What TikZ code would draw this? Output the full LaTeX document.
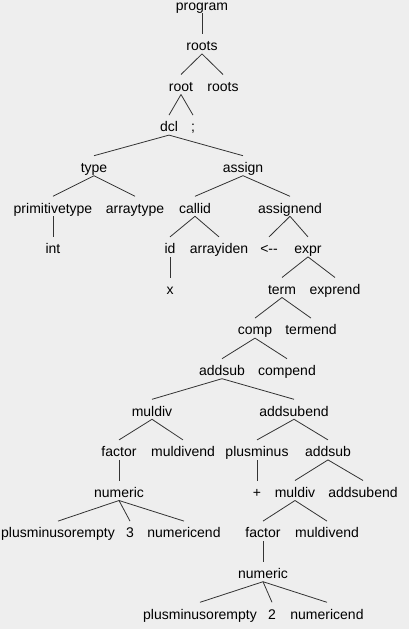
\documentclass[tikz,border=0pt]{standalone}
\usepackage{fontspec}
\setmainfont{Liberation Sans}
\usepackage{xcolor}
\usetikzlibrary{positioning}
\definecolor{panelgray}{HTML}{EEEEEE}
\definecolor{branchgray}{HTML}{333333}

\begin{document}
\begin{tikzpicture}[
		x=1pt, y=-40.6pt,
		tnode/.style={anchor=base, inner sep=0pt, outer sep=0pt,
			text height=16.7pt, text depth=3.3pt,
			font=\fontsize{14}{16}\selectfont},
		branch/.style={draw=branchgray, line width=0.8pt},
		]
		
		%% ── panel ────────────────────────────────────────────────────────
		\fill[panelgray] (0,-0.2463) rectangle (409,15.2463);
		\useasboundingbox (0,-0.2463) rectangle (409,15.2463);
		
		%% ── levels 0-4 ───────────────────────────────────────────────────
		\node[tnode] (program) at (202,0)   {program};
		\node[tnode] (roots)   at (202,1)   {roots};
		\node[tnode] (root)    at (181,2)   {root};
		\node[tnode] (rootsb)  at (223,2)   {roots};
		\node[tnode] (dcl)     at (169,3)   {dcl};
		\node[tnode] (semi)    at (193,3)   {;};
		\node[tnode] (type)    at (94,4)    {type};
		\node[tnode] (assign)  at (243,4)   {assign};
		
		\draw[branch] (program.south) -- (roots.north);
		\draw[branch] (roots.south) -- (root.north);
		\draw[branch] (roots.south) -- (rootsb.north);
		\draw[branch] (root.south) -- (dcl.north);
		\draw[branch] (root.south) -- (semi.north);
		\draw[branch] (dcl.south) -- (type.north);
		\draw[branch] (dcl.south) -- (assign.north);
		
		%% ── levels 5-7 ───────────────────────────────────────────────────
		\node[tnode] (primtype)  at (53,5)    {primitivetype};
		\node[tnode] (arrtype)   at (135,5)   {arraytype};
		\node[tnode] (callid)    at (195,5)   {callid};
		\node[tnode] (assignend) at (290,5)   {assignend};
		\node[tnode] (int)       at (53,6)    {int};
		\node[tnode] (id)        at (170,6)   {id};
		\node[tnode] (arrayiden) at (219,6)   {arrayiden};
		\node[tnode] (larrow)    at (269,6)   {<-{}-};
		\node[tnode] (expr)      at (308,6)   {expr};
		\node[tnode] (xvar)      at (170,7)   {x};
		\node[tnode] (term)      at (282,7)   {term};
		\node[tnode] (exprend)   at (335,7)   {exprend};
		
		\draw[branch] (type.south) -- (primtype.north);
		\draw[branch] (type.south) -- (arrtype.north);
		\draw[branch] (assign.south) -- (callid.north);
		\draw[branch] (assign.south) -- (assignend.north);
		\draw[branch] (primtype.south) -- (int.north);
		\draw[branch] (callid.south) -- (id.north);
		\draw[branch] (callid.south) -- (arrayiden.north);
		\draw[branch] (assignend.south) -- (larrow.north);
		\draw[branch] (assignend.south) -- (expr.north);
		\draw[branch] (id.south) -- (xvar.north);
		\draw[branch] (expr.south) -- (term.north);
		\draw[branch] (expr.south) -- (exprend.north);
		
		%% ── levels 8-10 ──────────────────────────────────────────────────
		\node[tnode] (comp)      at (255,8)   {comp};
		\node[tnode] (termend)   at (311,8)   {termend};
		\node[tnode] (addsub)    at (222,9)   {addsub};
		\node[tnode] (compend)   at (287,9)   {compend};
		\node[tnode] (muldiv)    at (152,10)  {muldiv};
		\node[tnode] (addsubend) at (294,10)  {addsubend};
		
		\draw[branch] (term.south) -- (comp.north);
		\draw[branch] (term.south) -- (termend.north);
		\draw[branch] (comp.south) -- (addsub.north);
		\draw[branch] (comp.south) -- (compend.north);
		\draw[branch] (addsub.south) -- (muldiv.north);
		\draw[branch] (addsub.south) -- (addsubend.north);
		
		%% ── levels 11-13 ─────────────────────────────────────────────────
		\node[tnode] (factor)     at (119,11)  {factor};
		\node[tnode] (muldivend)  at (183,11)  {muldivend};
		\node[tnode] (plusminus)  at (257,11)  {plusminus};
		\node[tnode] (addsubb)    at (328,11)  {addsub};
		\node[tnode] (numeric)    at (119,12)  {numeric};
		\node[tnode] (plus)       at (257,12)  {+};
		\node[tnode] (muldivb)    at (295,12)  {muldiv};
		\node[tnode] (addsubendb) at (363,12)  {addsubend};
		\node[tnode] (pme)        at (58,13)   {plusminusorempty};
		\node[tnode] (three)      at (130,13)  {3};
		\node[tnode] (numend)     at (184,13)  {numericend};
		\node[tnode] (factorb)    at (263,13)  {factor};
		\node[tnode] (muldivendb) at (327,13)  {muldivend};
		
		\draw[branch] (muldiv.south) -- (factor.north);
		\draw[branch] (muldiv.south) -- (muldivend.north);
		\draw[branch] (addsubend.south) -- (plusminus.north);
		\draw[branch] (addsubend.south) -- (addsubb.north);
		\draw[branch] (factor.south) -- (numeric.north);
		\draw[branch] (plusminus.south) -- (plus.north);
		\draw[branch] (addsubb.south) -- (muldivb.north);
		\draw[branch] (addsubb.south) -- (addsubendb.north);
		\draw[branch] (numeric.south) -- (pme.north);
		\draw[branch] (numeric.south) -- (three.north);
		\draw[branch] (numeric.south) -- (numend.north);
		\draw[branch] (muldivb.south) -- (factorb.north);
		\draw[branch] (muldivb.south) -- (muldivendb.north);
		
		%% ── levels 14-15 ─────────────────────────────────────────────────
		\node[tnode] (numericb) at (263,14)  {numeric};
		\node[tnode] (pmeb)     at (200,15)  {plusminusorempty};
		\node[tnode] (two)      at (272,15)  {2};
		\node[tnode] (numendb)  at (327,15)  {numericend};
		
		\draw[branch] (factorb.south) -- (numericb.north);
		\draw[branch] (numericb.south) -- (pmeb.north);
		\draw[branch] (numericb.south) -- (two.north);
		\draw[branch] (numericb.south) -- (numendb.north);
		
	\end{tikzpicture}
\end{document}
